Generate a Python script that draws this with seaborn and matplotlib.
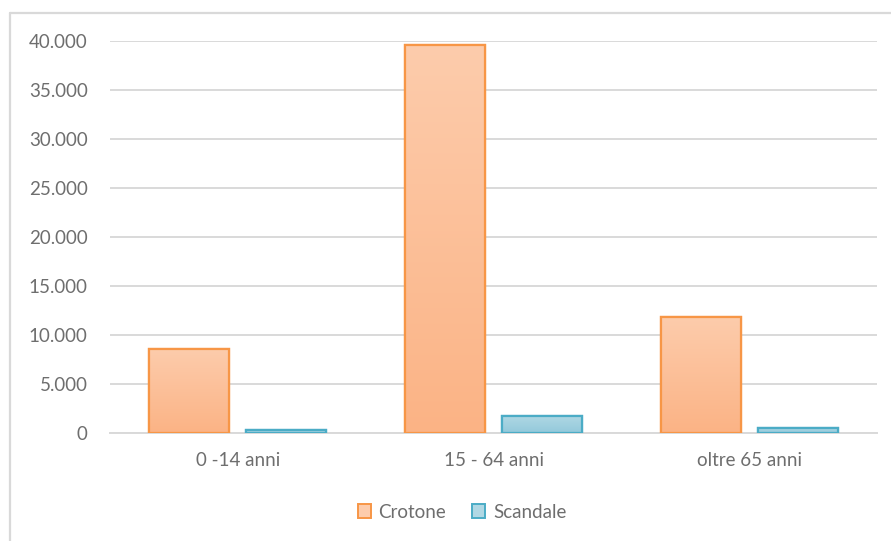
import numpy as np
import pandas as pd
import matplotlib
matplotlib.use("Agg")
import matplotlib.pyplot as plt
import seaborn as sns
from matplotlib.patches import Rectangle
from matplotlib.lines import Line2D
from matplotlib.ticker import FuncFormatter

categories = ["0 -14 anni", "15 - 64 anni", "oltre 65 anni"]
series = ["Crotone", "Scandale"]
crotone = [8600, 39600, 11850]
scandale = [300, 1760, 540]
yticks = [0, 5000, 10000, 15000, 20000, 25000, 30000, 35000, 40000]

df = pd.DataFrame({
    "fascia": categories * 2,
    "comune": [series[0]] * 3 + [series[1]] * 3,
    "abitanti": crotone + scandale,
})

sns.set_theme(style="white")
plt.rcParams["font.family"] = ["Lato", "DejaVu Sans"]

edge = {"Crotone": "#F79646", "Scandale": "#4BACC6"}
top_col = {"Crotone": "#FDCCAC", "Scandale": "#B0D8E4"}
bot_col = {"Crotone": "#FBB385", "Scandale": "#93C9DB"}
text_col = "#6E6E6E"

fig = plt.figure(figsize=(8.91, 5.41), dpi=100)
ax = fig.add_axes([110 / 891, 108 / 541, 767 / 891, 392 / 541])

sns.barplot(data=df, x="fascia", y="abitanti", hue="comune",
            palette=[bot_col[s] for s in series], width=0.758, gap=0.175,
            ax=ax, legend=False, zorder=3)

# vertical gradient fill on every bar (lighter at the top)
for i, patch in enumerate(ax.patches):
    s = series[i // 3]
    x0, y0 = patch.get_x(), patch.get_y()
    w, h = patch.get_width(), patch.get_height()
    c1 = np.array(matplotlib.colors.to_rgb(top_col[s]))
    c2 = np.array(matplotlib.colors.to_rgb(bot_col[s]))
    t = np.linspace(0, 1, 256)[:, None]
    grad = (c1 * (1 - t) + c2 * t)[:, None, :]
    im = ax.imshow(grad, extent=[x0, x0 + w, y0, y0 + h], origin="upper",
                   aspect="auto", zorder=3.5, interpolation="bilinear")
    im.set_clip_path(patch)
    patch.set_edgecolor(edge[s])
    patch.set_linewidth(1.6)
    ax.add_patch(Rectangle((x0, y0), w, h, fill=False, edgecolor=edge[s],
                           linewidth=1.6, zorder=4))
ax.set_xlim(-0.5, 2.5)
ax.set_ylim(0, 40000)

ax.set_yticks(yticks)
ax.yaxis.set_major_formatter(FuncFormatter(lambda v, p: f"{int(v):,}".replace(",", ".")))
ax.grid(axis="y", color="#D9D9D9", linewidth=1.4, zorder=0)
ax.set_axisbelow(True)
for sp in ["top", "right", "left"]:
    ax.spines[sp].set_visible(False)
ax.spines["bottom"].set_color("#D9D9D9")
ax.spines["bottom"].set_linewidth(1.4)
ax.tick_params(axis="both", length=0, labelsize=13.5, labelcolor=text_col)
ax.tick_params(axis="y", pad=16)
ax.tick_params(axis="x", pad=14)
ax.set_xlabel("")
ax.set_ylabel("")

# chart frame (top and left edges)
fig.add_artist(Line2D([10 / 891, 10 / 891], [0, 1 - 13 / 541], color="#D9D9D9",
                      linewidth=1.6, transform=fig.transFigure))
fig.add_artist(Line2D([10 / 891, 1], [1 - 13 / 541, 1 - 13 / 541], color="#D9D9D9",
                      linewidth=1.6, transform=fig.transFigure))

handles = [Rectangle((0, 0), 1, 1, facecolor=top_col[s], edgecolor=edge[s], linewidth=1.4)
           for s in series]
fig.legend(handles, series, loc="center", bbox_to_anchor=(462 / 891, 1 - 512 / 541),
           ncol=2, frameon=False, fontsize=13.5, labelcolor=text_col,
           handlelength=0.7, handleheight=0.7, handletextpad=0.4, columnspacing=1.4)

fig.savefig("out.png", dpi=100, facecolor="white")
